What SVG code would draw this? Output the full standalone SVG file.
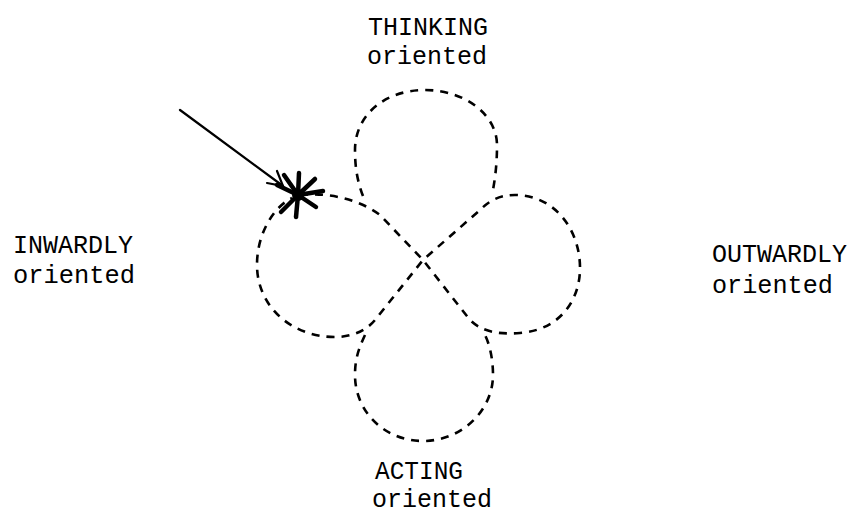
<svg xmlns="http://www.w3.org/2000/svg" width="853" height="515" viewBox="0 0 853 515">
<style>
.t{font-family:"Liberation Mono","DejaVu Sans Mono",monospace;font-size:25px;fill:#000}
.d{fill:none;stroke:#000;stroke-width:2.6;stroke-dasharray:8 7}
.s{stroke:#000;stroke-linecap:round;fill:none}
</style>
<rect width="853" height="515" fill="#fff"/>
<g id="connectors">
<path class="d" d="M300,195 C330,192 360,200 380,215 L423,260 L470,320 C480,330 495,335 520,333 C560,330 580,300 580,268 C580,230 555,195 515,195 C500,195 490,200 480,210 L423,260 L375,320 C365,332 350,337 335,337 C290,337 257,305 257,265 C257,232 275,206 292,198"/>
<path class="d" d="M363,196 C356,178 355,162 355,150 C355,115 385,90 425,90 C465,90 497,115 497,145 C497,165 495,180 492,195"/>
<path class="d" d="M365,335 C358,350 355,360 355,375 C355,412 385,441 423,441 C462,441 493,410 493,375 C493,360 490,345 485,335"/>
</g>
<g id="arrow">
<line class="s" x1="180" y1="110" x2="283" y2="186" stroke-width="2.2"/>
<polyline class="s" points="277,171 283,186 267,183" stroke-width="2.2"/>
</g>
<g id="star">
<g class="s" stroke-width="4.5">
<line x1="298" y1="195" x2="299" y2="173"/>
<line x1="298" y1="195" x2="296" y2="217"/>
<line x1="298" y1="195" x2="323" y2="191"/>
<line x1="298" y1="195" x2="277" y2="185"/>
<line x1="298" y1="195" x2="315" y2="179"/>
<line x1="298" y1="195" x2="281" y2="212"/>
<line x1="298" y1="195" x2="316" y2="207"/>
<line x1="298" y1="195" x2="284" y2="175"/>
</g>
<circle cx="298" cy="195" r="6" fill="#000"/>
</g>
<g id="thinking"><text class="t" x="368" y="35" textLength="120" lengthAdjust="spacingAndGlyphs">THINKING</text><text class="t" x="367" y="64" textLength="120" lengthAdjust="spacingAndGlyphs">oriented</text></g>
<g id="inwardly"><text class="t" x="13" y="253" textLength="120" lengthAdjust="spacingAndGlyphs">INWARDLY</text><text class="t" x="13" y="283" textLength="122" lengthAdjust="spacingAndGlyphs">oriented</text></g>
<g id="outwardly"><text class="t" x="712" y="262" textLength="135" lengthAdjust="spacingAndGlyphs">OUTWARDLY</text><text class="t" x="712" y="293" textLength="121" lengthAdjust="spacingAndGlyphs">oriented</text></g>
<g id="acting"><text class="t" x="375" y="479" textLength="88" lengthAdjust="spacingAndGlyphs">ACTING</text><text class="t" x="372" y="507" textLength="120" lengthAdjust="spacingAndGlyphs">oriented</text></g>
</svg>
